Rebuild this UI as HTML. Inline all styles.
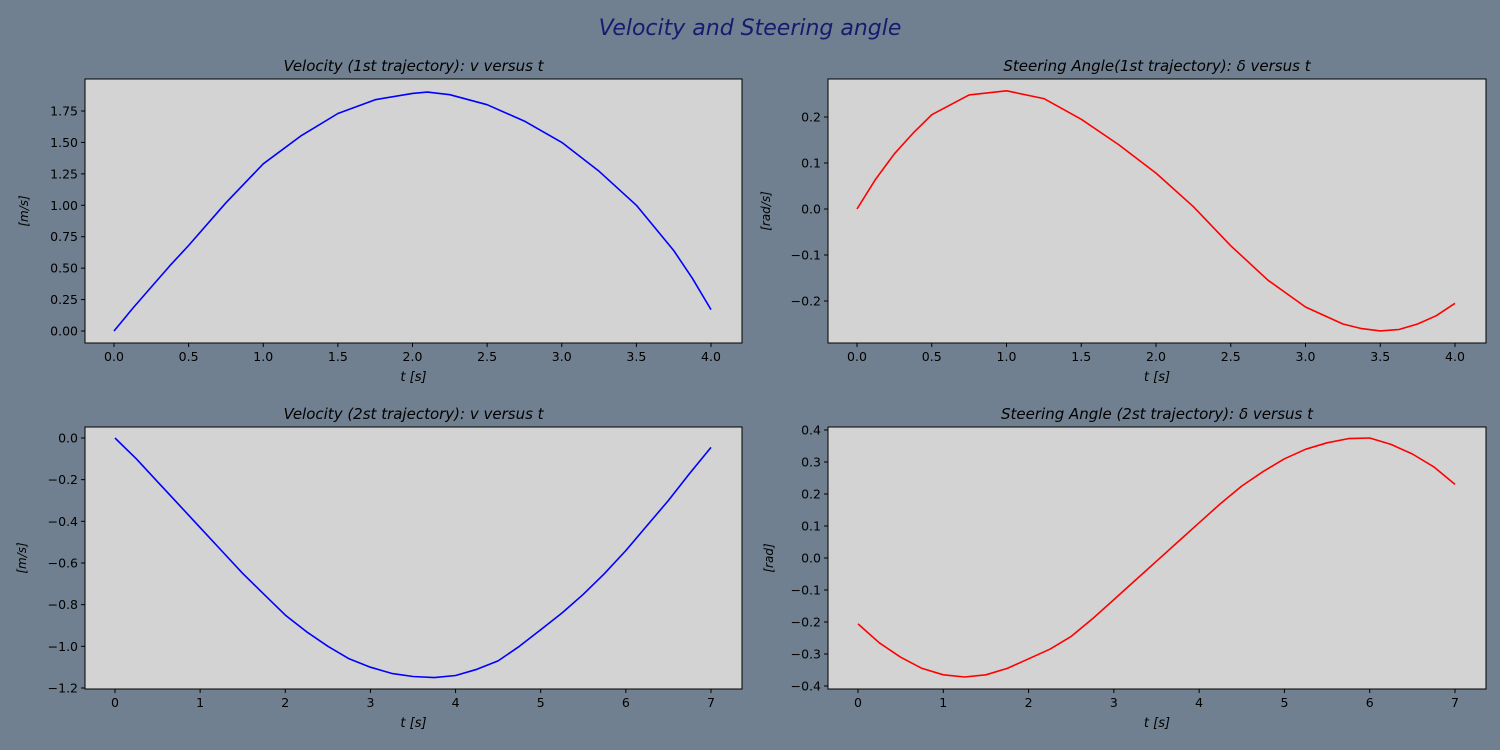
<!DOCTYPE html>
<html><head><meta charset="utf-8"><style>
body{margin:0;background:#708090;}
svg{display:block;font-family:"DejaVu Sans","Liberation Sans",sans-serif;}
</style></head><body>
<svg id="fig" width="1500" height="750">
<rect width="1500" height="750" fill="#708090"/>
<text x="750" y="35" text-anchor="middle" font-size="22" font-style="italic" fill="#191970">Velocity and Steering angle</text>
</svg>
<script>
const t1 = [0,0.125,0.25,0.375,0.5,0.75,1,1.25,1.5,1.75,2,2.1,2.25,2.5,2.75,3,3.25,3.5,3.75,3.875,4];
const vel1 = [0,0.18,0.35,0.52,0.68,1.02,1.33,1.55,1.73,1.84,1.89,1.90,1.88,1.80,1.67,1.50,1.27,1.00,0.64,0.42,0.17];
const t2 = [0,0.125,0.25,0.375,0.5,0.75,1,1.25,1.5,1.75,2,2.25,2.5,2.75,3,3.25,3.375,3.5,3.625,3.75,3.875,4];
const steer1 = [0,0.065,0.12,0.165,0.205,0.248,0.257,0.24,0.195,0.14,0.078,0.005,-0.08,-0.155,-0.213,-0.25,-0.26,-0.265,-0.262,-0.25,-0.232,-0.205];
const t3 = [0,0.25,0.5,0.75,1,1.25,1.5,1.75,2,2.25,2.5,2.75,3,3.25,3.5,3.75,4,4.25,4.5,4.75,5,5.25,5.5,5.75,6,6.25,6.5,6.75,7];
const vel2 = [0,-0.1,-0.21,-0.32,-0.43,-0.54,-0.65,-0.75,-0.85,-0.93,-1.0,-1.06,-1.1,-1.13,-1.145,-1.15,-1.14,-1.11,-1.07,-1.0,-0.92,-0.84,-0.75,-0.65,-0.54,-0.42,-0.3,-0.17,-0.045];
const steer2 = [-0.206,-0.265,-0.31,-0.345,-0.365,-0.372,-0.365,-0.345,-0.315,-0.285,-0.245,-0.19,-0.13,-0.07,-0.01,0.05,0.11,0.17,0.225,0.27,0.31,0.34,0.36,0.373,0.375,0.355,0.325,0.285,0.23];
const xt1 = [0,0.5,1,1.5,2,2.5,3,3.5,4];
const xt1Lab = ["0.0","0.5","1.0","1.5","2.0","2.5","3.0","3.5","4.0"];
const yt1 = [0,0.25,0.5,0.75,1,1.25,1.5,1.75];
const yt1Lab = ["0.00","0.25","0.50","0.75","1.00","1.25","1.50","1.75"];
const yt2 = [-0.2,-0.1,0,0.1,0.2];
const yt2Lab = ["\u22120.2","\u22120.1","0.0","0.1","0.2"];
const xt3 = [0,1,2,3,4,5,6,7];
const xt3Lab = ["0","1","2","3","4","5","6","7"];
const yt3 = [-1.2,-1.0,-0.8,-0.6,-0.4,-0.2,0];
const yt3Lab = ["\u22121.2","\u22121.0","\u22120.8","\u22120.6","\u22120.4","\u22120.2","0.0"];
const yt4 = [-0.4,-0.3,-0.2,-0.1,0,0.1,0.2,0.3,0.4];
const yt4Lab = ["\u22120.4","\u22120.3","\u22120.2","\u22120.1","0.0","0.1","0.2","0.3","0.4"];

const NS="http://www.w3.org/2000/svg";
const fig=document.getElementById('fig');
function mk(tag,attrs,parent){const e=document.createElementNS(NS,tag);for(const k in attrs)e.setAttribute(k,attrs[k]);(parent||fig).appendChild(e);return e;}

function panel(o){
  const g=mk('g',{});
  
  
  const sx=v=>o.px0+(v-o.x0)*(o.px1-o.px0)/(o.x1-o.x0);
  const sy=v=>o.py0+(v-o.y0)*(o.py1-o.py0)/(o.y1-o.y0);
  const bg=mk('rect',{x:o.L,y:o.T,width:o.R-o.L,height:o.B-o.T,fill:'#d3d3d3'},g);
  
  
  o.xt.forEach((v,i)=>{
    const x=sx(v);
    mk('line',{x1:x,x2:x,y1:o.B,y2:o.B+4,stroke:'#000','stroke-width':1},g);
    const tx=mk('text',{x:x,y:o.B+18,'text-anchor':'middle','font-size':12.5},g);
    tx.textContent=o.xl[i];
    
    
  });
  o.yt.forEach((v,i)=>{
    const y=sy(v);
    mk('line',{x1:o.L-4,x2:o.L,y1:y,y2:y,stroke:'#000','stroke-width':1},g);
    const tx=mk('text',{x:o.L-7,y:y+4.5,'text-anchor':'end','font-size':12.5},g);
    tx.textContent=o.yl[i];
    
    
  });
  const pts=o.xs.map((v,i)=>sx(v).toFixed(1)+','+sy(o.ys[i]).toFixed(1)).join(' ');
  const pl=mk('polyline',{points:pts,fill:'none',stroke:o.color,'stroke-width':1.6,'stroke-linejoin':'round'},g);
  
  
  mk('rect',{x:o.L,y:o.T,width:o.R-o.L,height:o.B-o.T,fill:'none',stroke:'#000','stroke-width':1},g);
  const ti=mk('text',{x:(o.L+o.R)/2,y:o.T-8,'text-anchor':'middle','font-size':15,'font-style':'italic'},g);
  ti.textContent=o.title;
  
  
  const xl=mk('text',{x:(o.L+o.R)/2,y:o.B+38,'text-anchor':'middle','font-size':13,'font-style':'italic'},g);
  xl.textContent='t [s]';
  
  
  const yl=mk('text',{x:0,y:0,'text-anchor':'middle','font-size':12,'font-style':'italic',transform:`translate(${o.ylx},${(o.T+o.B)/2}) rotate(-90)`},g);
  yl.textContent=o.ylab;
  
  
}
panel({name:'velocity-1-panel',L:85,R:742,T:79,B:343,x0:0,x1:4,px0:114,px1:711,y0:0,y1:1.75,py0:331,py1:111,
  xt:xt1,xl:xt1Lab,yt:yt1,yl:yt1Lab,xs:t1,ys:vel1,color:'#0000ff',title:'Velocity (1st trajectory): v versus t',ylab:'[m/s]',ylx:28});
panel({name:'steering-1-panel',L:828,R:1486,T:79,B:343,x0:0,x1:4,px0:857,px1:1455,y0:0,y1:0.2,py0:209,py1:117,
  xt:xt1,xl:xt1Lab,yt:yt2,yl:yt2Lab,xs:t2,ys:steer1,color:'#ff0000',title:'Steering Angle(1st trajectory): \u03b4 versus t',ylab:'[rad/s]',ylx:770});
panel({name:'velocity-2-panel',L:85,R:742,T:427,B:689,x0:0,x1:7,px0:115,px1:711,y0:0,y1:-1.2,py0:438,py1:688,
  xt:xt3,xl:xt3Lab,yt:yt3,yl:yt3Lab,xs:t3,ys:vel2,color:'#0000ff',title:'Velocity (2st trajectory): v versus t',ylab:'[m/s]',ylx:26});
panel({name:'steering-2-panel',L:828,R:1486,T:427,B:689,x0:0,x1:7,px0:858,px1:1455,y0:0.4,y1:-0.4,py0:430,py1:686,
  xt:xt3,xl:xt3Lab,yt:yt4,yl:yt4Lab,xs:t3,ys:steer2,color:'#ff0000',title:'Steering Angle (2st trajectory): \u03b4 versus t',ylab:'[rad]',ylx:773});
</script>
</body></html>
